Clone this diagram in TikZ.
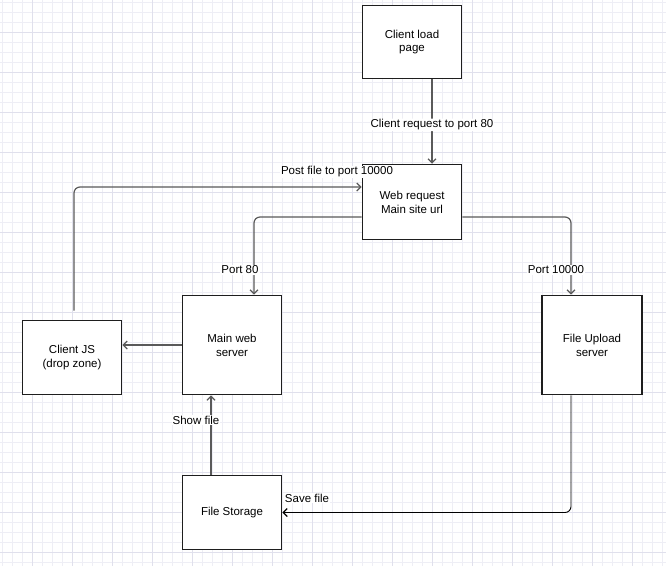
\documentclass[tikz,border=0pt]{standalone}
\usepackage{fontspec}
\setmainfont{Liberation Sans}
\usetikzlibrary{arrows.meta,calc}
\definecolor{gridminor}{RGB}{238,238,245}
\definecolor{gridmajor}{RGB}{224,224,236}
\definecolor{boxc}{RGB}{30,30,30}
\definecolor{linec}{RGB}{90,90,90}
\begin{document}
\begin{tikzpicture}[x=1pt,y=-1pt,
  box/.style={draw=boxc, line width=1.8pt, fill=white, minimum width=99pt,
    align=center, font=\fontsize{11.5}{14}\selectfont, inner sep=0pt},
  conn/.style={draw=linec, line width=1.2pt, rounded corners=6pt,
    -{Straight Barb[length=4pt,width=8pt,line width=1.2pt]}},
  savec/.style={conn, draw=black, line width=0.9pt},
  lab/.style={fill=white, inner sep=1pt, font=\fontsize{11.5}{13}\selectfont}]
\useasboundingbox (0,0) rectangle (666,566);
\fill[white] (0,0) rectangle (666,566);
\foreach \i in {0,...,66}{
  \draw[gridminor, line width=0.6pt] ({2.7+10*\i},0) -- ({2.7+10*\i},566);
}
\foreach \i in {0,...,56}{
  \draw[gridminor, line width=0.6pt] (0,{2.7+10*\i}) -- (666,{2.7+10*\i});
}
\foreach \i in {0,...,16}{
  \draw[gridmajor, line width=0.6pt] ({32.7+40*\i},0) -- ({32.7+40*\i},566);
}
\foreach \i in {0,...,13}{
  \draw[gridmajor, line width=0.6pt] (0,{32.7+40*\i}) -- (666,{32.7+40*\i});
}

\node[box, minimum height=73pt] (load) at (412,42) {\raisebox{-1.5pt}{Client load}\\page};
\node[box, minimum height=75pt] (web) at (412,202) {Web request\\Main site url};
\node[box, minimum height=99pt] (main) at (232,345) {Main web\\server};
\node[box, minimum height=74pt] (js) at (72,357.5) {Client JS\\(drop zone)};
\node[box, minimum height=74pt] (storage) at (232,512.5) {File Storage};
\node[box, minimum height=99pt, minimum width=100pt] (upload) at (592,345) {File Upload\\server};

\coordinate (jsout) at ([xshift=2pt,yshift=9pt]js.north);

\draw[conn] ([xshift=20pt]load.south) -- node[lab, pos=0.54] {Client request to port 80} ([xshift=20pt]web.north);
\draw[conn] (jsout) |- ([yshift=15pt]web.west);
\node[lab] (postlab) at (337,172) {Post file to port 10000};
\draw[conn] ([yshift=-15pt]web.west) -| ([xshift=22pt]main.north);
\node[lab] (p80) at (240,270) {Port 80};
\draw[conn] ([yshift=-15pt]web.east) -| ([xshift=-21pt]upload.north);
\node[lab] (p10000) at (556,270) {Port 10000};
\draw[conn] (main.west) -- (main.west -| js.east);
\draw[conn] ([xshift=-21pt]storage.north) -- ([xshift=-21pt]main.south);
\node[lab] (showlab) at (196,420) {Show file};
\draw[savec] ([xshift=-21pt]upload.south) |- (storage.east);
\node[lab] (savelab) at (307,498) {Save file};
\end{tikzpicture}
\end{document}
